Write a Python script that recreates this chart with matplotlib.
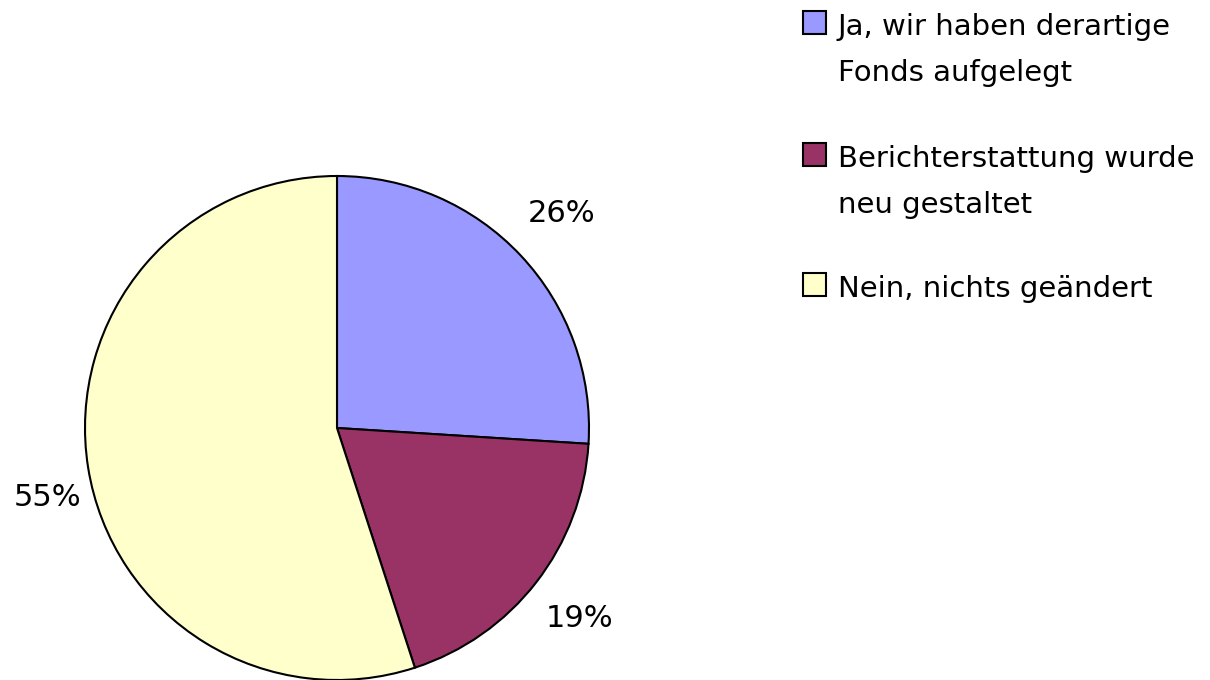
import matplotlib.pyplot as plt
from matplotlib.patches import Rectangle

# Chart data
labels = [['Ja, wir haben derartige', 'Fonds aufgelegt'],
          ['Berichterstattung wurde', 'neu gestaltet'],
          ['Nein, nichts geändert']]
shares = [26, 19, 55]
colors = ['#9999FF', '#993366', '#FFFFCC']

W, H = 1210, 680
fig = plt.figure(figsize=(W / 100, H / 100), dpi=100)

# pie axes: centre (337, 428), radius 252 px
ax = fig.add_axes([85 / W, 0 / H, 504 / W, 504 / H])
wedges, _, pcts = ax.pie(shares, colors=colors, startangle=90, counterclock=False,
                         autopct='%1.0f%%', pctdistance=1.22,
                         wedgeprops=dict(edgecolor='black', linewidth=1.5),
                         textprops=dict(fontsize=22, color='black'))
ax.set_xlim(-1, 1)
ax.set_ylim(-1, 1)
ax.set_aspect('equal')
for w in wedges:
    w.set_clip_on(False)

# label placement like the original (radius units)
label_pos = [(0.893, 0.853), (0.964, -0.754), (-1.147, -0.274)]
for t, p in zip(pcts, label_pos):
    t.set_position(p)
    t.set_clip_on(False)

# legend drawn by hand so the box lines up with the first text line
baselines = [35, 167, 297]
for lines, col, yb in zip(labels, colors, baselines):
    fig.patches.append(Rectangle((803 / W, 1 - (yb - 1) / H), 23 / W, 23 / H,
                                 transform=fig.transFigure, facecolor=col,
                                 edgecolor='black', linewidth=1.5))
    for i, line in enumerate(lines):
        fig.text(838 / W, 1 - (yb + i * 46) / H, line, fontsize=21,
                 va='baseline', ha='left')

fig.savefig('out.png', dpi=100)
